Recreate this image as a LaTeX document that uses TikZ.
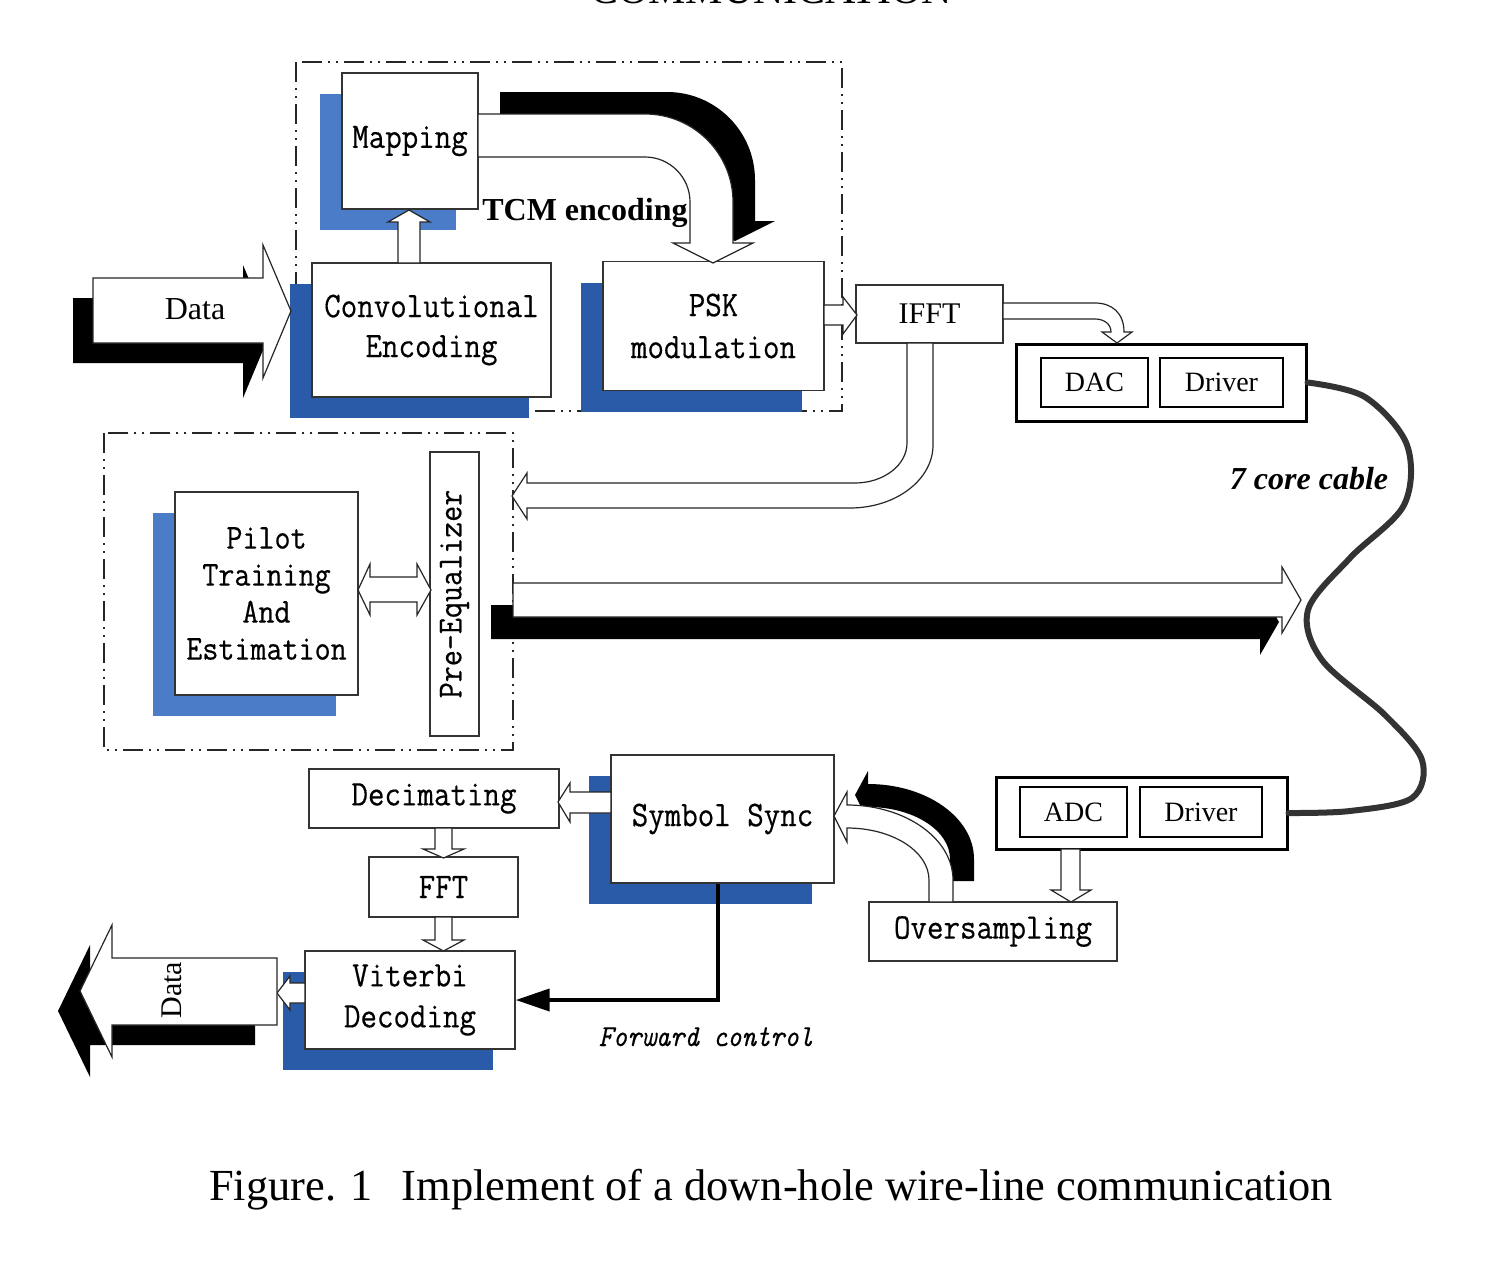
\documentclass[tikz,border=0pt]{standalone}
\usepackage{fontspec}
\usepackage{graphicx}
\newfontfamily\tms{Liberation Serif}
\newfontfamily\sims[FakeStretch=0.89,FakeBold=0.4]{Latin Modern Mono}
\usetikzlibrary{arrows.meta,shadows,calc}
\definecolor{shL}{HTML}{4A7CC8}
\definecolor{shD}{HTML}{2A5BA8}
\newcommand\mono{\sims\fontsize{18}{20}\selectfont}
\tikzset{
  box/.style={draw=black!80, line width=0.7pt, fill=white, inner sep=0pt, align=center, font=\mono},
  sz/.style 2 args={minimum width=#1*0.5pt, minimum height=#2*0.5pt},
  shl/.style={general shadow={fill=shL, shadow xshift=-11pt, shadow yshift=-10.5pt}},
  shd/.style={general shadow={fill=shD, shadow xshift=-11pt, shadow yshift=-10.5pt}},
  hollow/.style={fill=white, draw=black!85, line width=0.6pt},
  solid/.style={fill=black},
  grp/.style={draw=black!85, line width=1pt, dash pattern=on 10pt off 3pt on 1pt off 3pt on 1pt off 3pt},
  tbox/.style={draw=black, line width=1.3pt, fill=white, inner sep=0pt, font=\tms\fontsize{14}{16}\selectfont},
}
\begin{document}
\begin{tikzpicture}[x=0.5pt,y=-0.5pt]
\useasboundingbox (0,0) rectangle (1512,1286);
\fill[white] (0,0) rectangle (1512,1286);

% cut-off heading
\node[anchor=base, font=\tms\fontsize{21}{24}\selectfont] (ttl) at (771,3) {COMMUNICATION};

% group frames
\draw[grp] (296,62) rectangle (842,411);
\draw[grp] (104,433) rectangle (513,750);

% boxes
\node[box,shl,sz={136}{136}] (map) at (410,141) {Mapping};
\node[box,shd,sz={239}{134}] (conv) at (431.5,330) {Convolutional\\Encoding};
\node[box,shd,sz={221}{129},font=\sims\fontsize{18}{21}\selectfont] (psk) at (713.5,326) {PSK\\modulation};
\node[box,sz={147}{58},font=\tms\fontsize{15}{18}\selectfont] (ifft) at (929.5,314) {IFFT};
\node[tbox,sz={290}{77},line width=1.5pt] (dacbox) at (1161,382.5) {};
\node[tbox,sz={107}{49}] (dac) at (1094.5,382.5) {DAC};
\node[tbox,sz={123}{49}] (drv1) at (1221.5,382.5) {Driver};

\node[box,shl,sz={183}{203},font=\sims\fontsize{17.5}{18.5}\selectfont] (pilot) at (266.5,593.5) {Pilot\\Training\\And\\Estimation};
\node[box,sz={49}{284},font=\sims\fontsize{17.5}{18}\selectfont] (preq) at (454.5,594) {\rotatebox{90}{Pre-Equalizer}};

\node[box,sz={250}{59}] (dec) at (434,798.5) {Decimating};
\node[box,shd,sz={223}{128}] (sym) at (722.5,819) {Symbol Sync};
\node[box,sz={149}{60}] (fft) at (443.5,887) {FFT};
\node[box,shd,sz={210}{98},font=\sims\fontsize{18}{20.5}\selectfont] (vit) at (410,1000) {Viterbi\\Decoding};
\node[tbox,sz={291}{72},line width=1.5pt] (adcbox) at (1141.5,813) {};
\node[tbox,sz={107}{50}] (adc) at (1073.5,812) {ADC};
\node[tbox,sz={122}{50}] (drv2) at (1201,812) {Driver};
\node[box,sz={248}{59}] (ovs) at (993,931.5) {Oversampling};

% data input arrow
\fill[solid,shift={(-20,20)}] (93,278) -- (263,278) -- (263,245) -- (291,311) -- (263,378) -- (263,343) -- (93,343) -- cycle;
\draw[hollow] (93,278) -- (263,278) -- (263,245) -- (291,311) -- (263,378) -- (263,343) -- (93,343) -- cycle;
\node[anchor=base, font=\tms\fontsize{16}{18}\selectfont] (din) at (195,319) {Data};

% conv -> mapping
\draw[hollow] (398,263) -- (398,222) -- (388,222) -- (409,210) -- (430,222) -- (420,222) -- (420,263) -- cycle;

% TCM curved arrow
\fill[solid,shift={(22,-22)}] (478,114) -- (645,114) .. controls (693.6,114) and (733,153.4) .. (733,202) -- (733,243) -- (753,243) -- (713,263) -- (673,243) -- (690,243) -- (690,202) .. controls (690,177.2) and (669.8,157) .. (645,157) -- (478,157) -- cycle;
\draw[hollow] (478,114) -- (645,114) .. controls (693.6,114) and (733,153.4) .. (733,202) -- (733,243) -- (753,243) -- (713,263) -- (673,243) -- (690,243) -- (690,202) .. controls (690,177.2) and (669.8,157) .. (645,157) -- (478,157) -- cycle;
\node[anchor=base, font=\tms\bfseries\fontsize{16}{18}\selectfont] (tcm) at (585,220) {TCM encoding};

% psk -> ifft
\draw[hollow] (824,305) -- (843,305) -- (843,297) -- (857,315) -- (843,334) -- (843,325) -- (824,325) -- cycle;

% ifft -> dac
\draw[hollow] (1003,303) -- (1095,303) .. controls (1112,303) and (1124,313) .. (1124,332) -- (1132,332) -- (1117,343) -- (1102,332) -- (1111,332) .. controls (1111,324) and (1104,319) .. (1095,319) -- (1003,319) -- cycle;

% ifft -> pre-equalizer
\draw[hollow] (907,343) -- (907,443) .. controls (907,465) and (883.7,483) .. (855,483) -- (527,483) -- (527,473) -- (512,496) -- (527,519) -- (527,508) -- (850,508) .. controls (895.8,508) and (933,479.8) .. (933,445) -- (933,343) -- cycle;

% pilot <-> pre-eq
\draw[hollow] (358,590) -- (370,564) -- (370,577) -- (417,577) -- (417,564) -- (431,590) -- (417,615) -- (417,602) -- (370,602) -- (370,615) -- cycle;

% long arrow to cable
\fill[solid,shift={(-22,22)}] (513,583) -- (1282,583) -- (1282,567) -- (1301,600) -- (1282,633) -- (1282,617) -- (513,617) -- cycle;
\draw[hollow] (513,583) -- (1282,583) -- (1282,567) -- (1301,600) -- (1282,633) -- (1282,617) -- (513,617) -- cycle;

% sym -> dec
\draw[hollow] (611,792) -- (570,792) -- (570,783) -- (558,802) -- (570,822) -- (570,813) -- (611,813) -- cycle;
% dec -> fft
\draw[hollow] (435,828) -- (435,849) -- (423,849) -- (443.5,858) -- (464,849) -- (452,849) -- (452,828) -- cycle;
% fft -> vit
\draw[hollow] (435,917) -- (435,940) -- (423,940) -- (443.5,951) -- (464,940) -- (452,940) -- (452,917) -- cycle;
% adc -> oversampling
\draw[hollow] (1061,849) -- (1061,890) -- (1051,890) -- (1071,902) -- (1091,890) -- (1080,890) -- (1080,849) -- cycle;

% oversampling -> symbol sync
\fill[solid,shift={(21,-21)}] (929,902) -- (929,880) .. controls (929,851.3) and (892.3,828) .. (847,828) -- (847,842) -- (834,816) -- (847,792) -- (847,805) .. controls (905.5,805) and (953,838.6) .. (953,880) -- (953,902) -- cycle;
\draw[hollow] (929,902) -- (929,880) .. controls (929,851.3) and (892.3,828) .. (847,828) -- (847,842) -- (834,816) -- (847,792) -- (847,805) .. controls (905.5,805) and (953,838.6) .. (953,880) -- (953,902) -- cycle;

% viterbi -> data out
\draw[hollow] (305,983) -- (290,983) -- (290,976) -- (277,993) -- (290,1010) -- (290,1003) -- (305,1003) -- cycle;
\fill[solid,shift={(-22,20)}] (277,958) -- (112,958) -- (112,925) -- (80,991) -- (112,1057) -- (112,1025) -- (277,1025) -- cycle;
\draw[hollow] (277,958) -- (112,958) -- (112,925) -- (80,991) -- (112,1057) -- (112,1025) -- (277,1025) -- cycle;
\node[rotate=90, font=\tms\fontsize{15}{18}\selectfont] (dout) at (172,990) {Data};

% forward control
\draw[line width=2pt, -{Triangle[length=17pt,width=11pt]}] ([xshift=-2.5pt]sym.south) |- (vit.east);
\node[anchor=base, font=\sims\itshape\fontsize{15.3}{17}\selectfont] (fwd) at (706,1046) {Forward control};

% cable
\draw[line width=3pt, black!80, line cap=round] plot[smooth, tension=0.55] coordinates {(dacbox.east) (1365,397) (1407,445) (1404,505) (1350,558) (1308,610) (1322,660) (1385,715) (1422,760) (1412,798) (1350,811) (adcbox.east)};
\node[anchor=base, font=\tms\bfseries\itshape\fontsize{16}{18}\selectfont] (cbl) at (1309,489) {7 core cable};

% caption
\node[anchor=base, font=\tms\fontsize{22.2}{26}\selectfont] (cap) at (771,1200) {Figure. 1\hspace{0.4em} Implement of a down-hole wire-line communication};
\end{tikzpicture}
\end{document}
